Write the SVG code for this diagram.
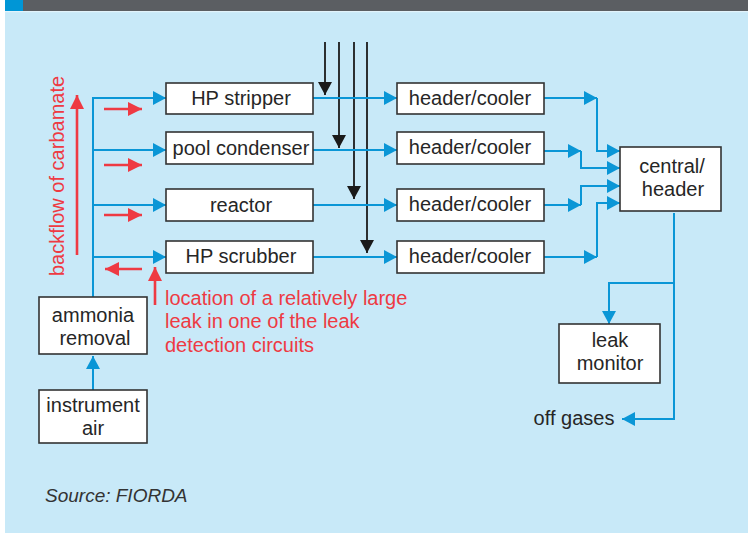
<svg xmlns="http://www.w3.org/2000/svg" width="748" height="533" viewBox="0 0 748 533">
<style>
.box{fill:#ffffff;stroke:#333333;stroke-width:1.6}
.t{font-family:"Liberation Sans",Arial,sans-serif;font-size:20px;fill:#262626;text-anchor:middle}
.red{font-family:"Liberation Sans",Arial,sans-serif;font-size:20px;fill:#ee3a43}
.bl{fill:none;stroke:#0a96d6;stroke-width:2}
.rd{fill:none;stroke:#ee3a43;stroke-width:2.6}
.bk{fill:none;stroke:#1a1a1a;stroke-width:1.8}
</style>
<defs>
<marker id="ab" markerUnits="userSpaceOnUse" markerWidth="14" markerHeight="15" refX="13" refY="7" orient="auto"><path d="M0,0 L13,7 L0,14 z" fill="#0a96d6"/></marker>
<marker id="ar" markerUnits="userSpaceOnUse" markerWidth="15" markerHeight="15" refX="14" refY="7" orient="auto"><path d="M0,0 L14,7 L0,14 z" fill="#ee3a43"/></marker>
<marker id="ak" markerUnits="userSpaceOnUse" markerWidth="14" markerHeight="15" refX="13" refY="7" orient="auto"><path d="M0,0 L13,7 L0,14 z" fill="#1a1a1a"/></marker>
</defs>
<rect x="0" y="0" width="748" height="533" fill="#ffffff"/>
<rect x="5" y="0" width="743" height="533" fill="#c8e9f8"/>
<rect x="5" y="0" width="743" height="11" fill="#5b5e62"/>
<rect x="5" y="0" width="18" height="11" fill="#0096d6"/>
<rect x="5" y="11" width="743" height="1.2" fill="#e2f3fb"/>

<g id="connectors">
<path class="bk" d="M325,42 V95" marker-end="url(#ak)"/>
<path class="bk" d="M339,42 V148" marker-end="url(#ak)"/>
<path class="bk" d="M354,42 V199" marker-end="url(#ak)"/>
<path class="bk" d="M367,42 V253" marker-end="url(#ak)"/>

<path class="bl" d="M93,297 V98 H166" marker-end="url(#ab)"/>
<path class="bl" d="M93,150 H166" marker-end="url(#ab)"/>
<path class="bl" d="M93,205 H166" marker-end="url(#ab)"/>
<path class="bl" d="M93,257 H166" marker-end="url(#ab)"/>
<path class="bl" d="M93,390 V356" marker-end="url(#ab)"/>

<path class="bl" d="M313,98 H397" marker-end="url(#ab)"/>
<path class="bl" d="M313,150 H397" marker-end="url(#ab)"/>
<path class="bl" d="M313,205 H397" marker-end="url(#ab)"/>
<path class="bl" d="M313,257 H397" marker-end="url(#ab)"/>

<path class="bl" d="M544,98 H597" marker-end="url(#ab)"/>
<path class="bl" d="M597,98 V151 H620" marker-end="url(#ab)"/>
<path class="bl" d="M544,151 H581" marker-end="url(#ab)"/>
<path class="bl" d="M581,151 V168 H620" marker-end="url(#ab)"/>
<path class="bl" d="M544,205 H581" marker-end="url(#ab)"/>
<path class="bl" d="M581,205 V186 H620" marker-end="url(#ab)"/>
<path class="bl" d="M544,257 H597" marker-end="url(#ab)"/>
<path class="bl" d="M597,257 V203 H620" marker-end="url(#ab)"/>

<path class="bl" d="M674,213 V419 H622" marker-end="url(#ab)"/>
<path class="bl" d="M674,283 H609 V324" marker-end="url(#ab)"/>

<path class="rd" d="M104,109 H142" marker-end="url(#ar)"/>
<path class="rd" d="M104,165 H142" marker-end="url(#ar)"/>
<path class="rd" d="M104,215 H142" marker-end="url(#ar)"/>
<path class="rd" d="M142,269 H105" marker-end="url(#ar)"/>
<path class="rd" d="M77,255 V95" marker-end="url(#ar)"/>
<path class="rd" d="M155,305 V267" marker-end="url(#ar)"/>
</g>

<g id="hp-stripper"><rect class="box" x="166" y="83" width="147" height="31"/><text class="t" x="241" y="105">HP stripper</text></g>
<g id="pool-condenser"><rect class="box" x="166" y="132" width="147" height="32"/><text class="t" x="241" y="155">pool condenser</text></g>
<g id="reactor"><rect class="box" x="166" y="189" width="147" height="32"/><text class="t" x="241" y="212">reactor</text></g>
<g id="hp-scrubber"><rect class="box" x="166" y="241" width="147" height="32"/><text class="t" x="241" y="263">HP scrubber</text></g>

<g id="header-cooler-1"><rect class="box" x="397" y="83" width="147" height="31"/><text class="t" x="470" y="105">header/cooler</text></g>
<g id="header-cooler-2"><rect class="box" x="397" y="132" width="147" height="32"/><text class="t" x="470" y="154">header/cooler</text></g>
<g id="header-cooler-3"><rect class="box" x="397" y="189" width="147" height="32"/><text class="t" x="470" y="211">header/cooler</text></g>
<g id="header-cooler-4"><rect class="box" x="397" y="241" width="147" height="32"/><text class="t" x="470" y="263">header/cooler</text></g>

<g id="central-header"><rect class="box" x="620" y="147" width="101" height="64"/><text class="t" x="672" y="173">central/</text><text class="t" x="673" y="196">header</text></g>
<g id="leak-monitor"><rect class="box" x="559" y="324" width="101" height="59"/><text class="t" x="610" y="347">leak</text><text class="t" x="610" y="370">monitor</text></g>
<g id="ammonia-removal"><rect class="box" x="39" y="297" width="108" height="57"/><text class="t" x="93" y="322">ammonia</text><text class="t" x="95" y="345">removal</text></g>
<g id="instrument-air"><rect class="box" x="39" y="390" width="108" height="53"/><text class="t" x="93" y="412">instrument</text><text class="t" x="93" y="435">air</text></g>

<g id="labels">
<text class="red" x="0" y="0" transform="translate(64,276) rotate(-90)">backflow of carbamate</text>
<text class="red" x="165" y="305">location of a relatively large</text>
<text class="red" x="165" y="328">leak in one of the leak</text>
<text class="red" x="165" y="352">detection circuits</text>
<text class="t" x="574" y="425">off gases</text>
<text x="45" y="502" font-family="'Liberation Sans',Arial,sans-serif" font-size="19" font-style="italic" fill="#333333">Source: FIORDA</text>
</g>
</svg>
